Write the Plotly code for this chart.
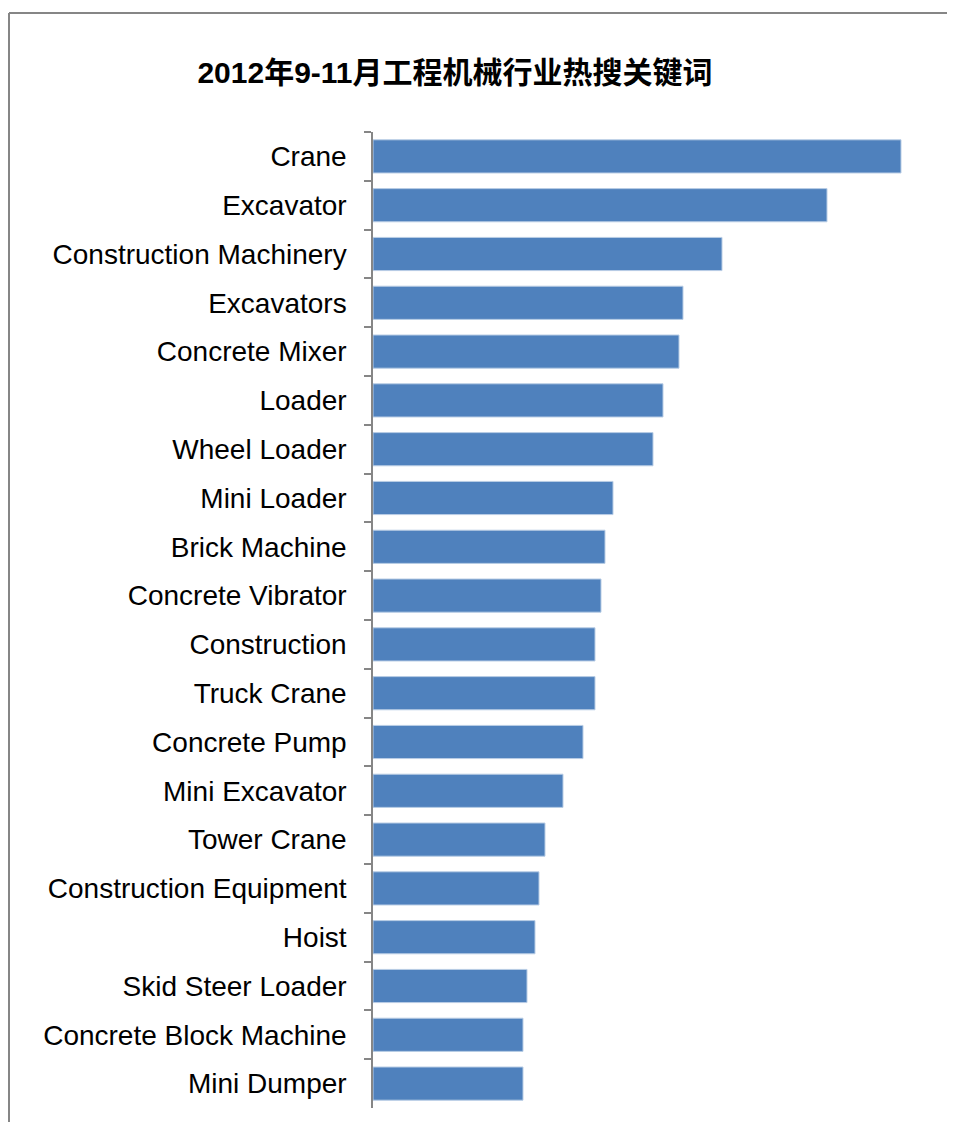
import plotly.graph_objects as go

categories = ["Crane", "Excavator", "Construction Machinery", "Excavators", "Concrete Mixer",
              "Loader", "Wheel Loader", "Mini Loader", "Brick Machine", "Concrete Vibrator",
              "Construction", "Truck Crane", "Concrete Pump", "Mini Excavator", "Tower Crane",
              "Construction Equipment", "Hoist", "Skid Steer Loader", "Concrete Block Machine",
              "Mini Dumper"]
values = [528, 454, 349, 310, 306, 290, 280, 240, 232, 228,
          222, 222, 210, 190, 172, 166, 162, 154, 150, 150]

title_text = "2012年9-11月工程机械行业热搜关键词"

# page has an 8px body margin; figure coordinates = page coordinates - 8
OFF = 8
W, H = 939, 1114
L, R, T = 373 - OFF, 0, 132 - OFF
B = H - (1108 - OFF)
pw, ph = W - L - R, H - T - B

fig = go.Figure(go.Bar(
    x=values, y=categories, orientation="h",
    marker=dict(color="#4F81BD", line=dict(color="#B9CDE5", width=1)),
    hoverinfo="x+y",
))

bx0 = (1 - L) / pw
by1 = 1 + (T - 5) / ph
border = dict(color="#868686", width=2)

fig.update_layout(
    width=W, height=H,
    margin=dict(l=L, r=R, t=T, b=B),
    paper_bgcolor="white", plot_bgcolor="white",
    bargap=0.32,
    showlegend=False,
    font=dict(family="Liberation Sans, Arial, Noto Sans CJK SC", color="black"),
    title=dict(text="<b>" + title_text + "</b>", x=(455 - OFF) / W, xref="container", xanchor="center",
               y=1 - (72 - OFF) / H, yref="container", yanchor="middle",
               font=dict(size=30, family="Liberation Sans, Arial, Noto Sans CJK SC", color="black")),
    xaxis=dict(range=[0, pw], visible=False, fixedrange=True),
    yaxis=dict(autorange="reversed", showline=True, linecolor="#868686", linewidth=1.5,
               ticks="outside", ticklen=7, tickcolor="#868686", tickwidth=1.5,
               tickson="boundaries", showgrid=False, ticklabelstandoff=19,
               tickfont=dict(size=28, color="black")),
    shapes=[
        dict(type="line", xref="paper", yref="paper", x0=bx0, x1=bx0,
             y0=-(B + 30) / ph, y1=by1, line=border, layer="below"),
        dict(type="line", xref="paper", yref="paper", x0=bx0, x1=(W + 30 - L) / pw,
             y0=by1, y1=by1, line=border, layer="below"),
    ],
)

fig.write_html("out.html")
